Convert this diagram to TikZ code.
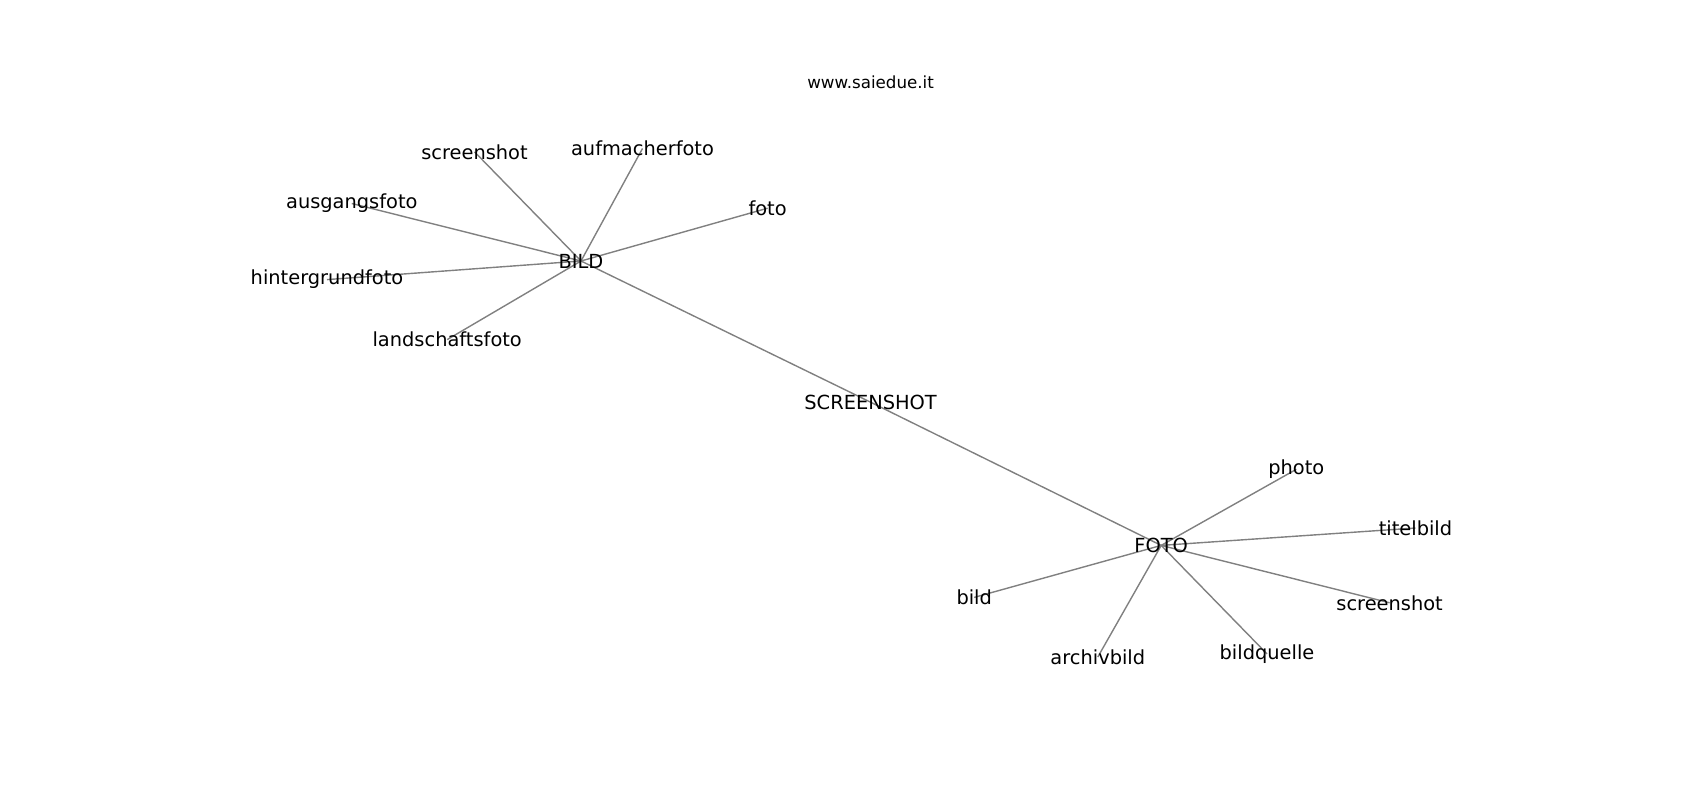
\documentclass[tikz,border=0pt]{standalone}
\usepackage{fontspec}
\setmainfont{DejaVu Sans}
\usetikzlibrary{backgrounds}
\tikzset{
  word/.style={inner sep=0pt, font=\fontsize{19.4}{23}\selectfont},
  link/.style={gray, line width=1.4pt},
}

\begin{document}
\begin{tikzpicture}[x=1pt,y=-1pt]
  \useasboundingbox (0,0) rectangle (1700,800);
  \node[inner sep=0pt,font=\fontsize{16.7}{20}\selectfont] (site) at (870.6,82) {www.saiedue.it};
  % hubs
  \node[word] (bild) at (581,261) {BILD};
  \node[word] (shot) at (870.6,402.2) {SCREENSHOT};
  \node[word] (foto) at (1161.2,545.4) {FOTO};
  \begin{pgfonlayer}{background}
    \draw[link] (bild.center) -- (shot.center) -- (foto.center);
  \end{pgfonlayer}
  % leaves of BILD
  \foreach \n/\x/\y/\t in {b1/474.5/151.8/screenshot, b2/642.5/148.5/aufmacherfoto,
      b3/351.8/203.5/ausgangsfoto, b4/767.6/208.2/foto,
      b5/327/279.6/hintergrundfoto, b6/447.2/339.6/landschaftsfoto} {
    \node[word] (\n) at (\x,\y) {\t};
    \begin{pgfonlayer}{background}
      \draw[link] (bild.center) -- (\n.center);
    \end{pgfonlayer}
  }
  % leaves of FOTO
  \foreach \n/\x/\y/\t in {f1/1296.3/469.3/photo, f2/1415.5/528.0/titelbild,
      f3/1389.6/602.8/screenshot, f4/1267/653.9/bildquelle,
      f5/1097.8/657.0/archivbild, f6/974.2/597.4/bild} {
    \node[word] (\n) at (\x,\y) {\t};
    \begin{pgfonlayer}{background}
      \draw[link] (foto.center) -- (\n.center);
    \end{pgfonlayer}
  }
\end{tikzpicture}
\end{document}
